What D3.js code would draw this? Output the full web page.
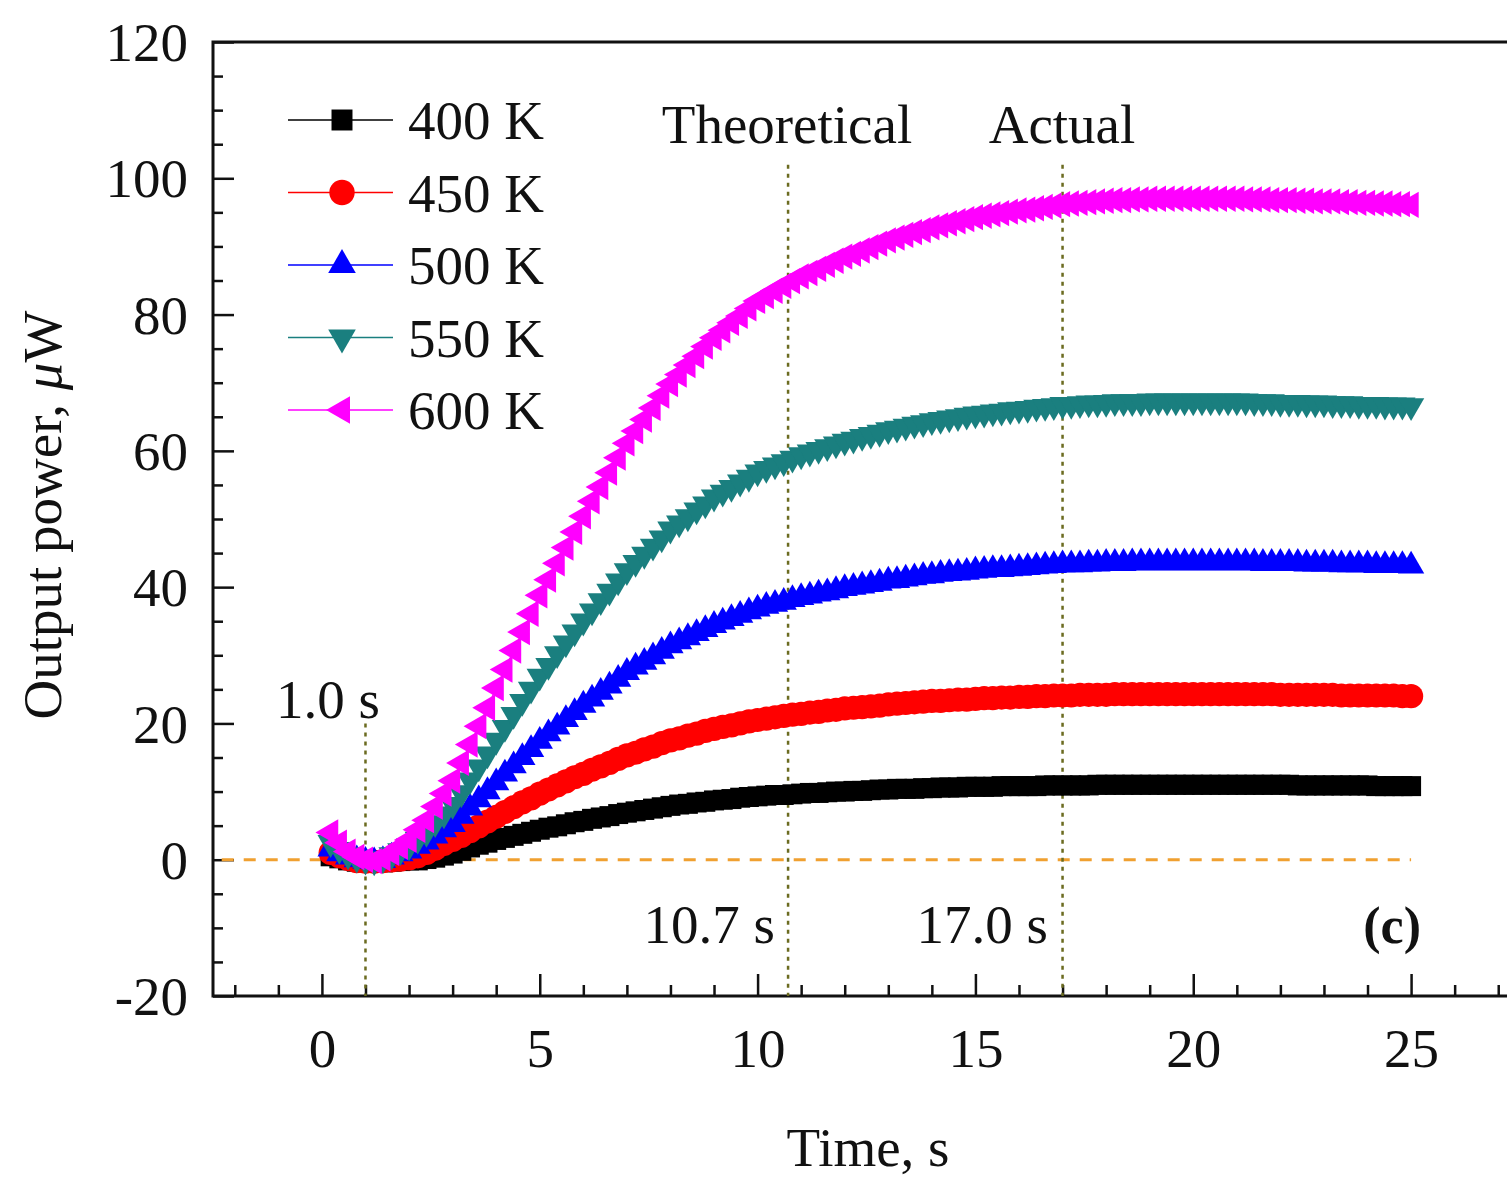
<!DOCTYPE html>
<html>
<head>
<meta charset="utf-8">
<script src="https://cdn.jsdelivr.net/npm/d3@7"></script>
<style>
  html, body { margin: 0; padding: 0; background: #fff; overflow: hidden; }
  text { font-family: "Liberation Serif", "Times New Roman", serif; fill: #111; }
</style>
</head>
<body>
<svg id="chart"></svg>
<script>
// sampled time, s
const time = [
  0.2, 0.4, 0.6, 0.8, 1.0, 1.2, 1.4, 1.6, 1.8, 2.0,
  2.2, 2.4, 2.6, 2.8, 3.0, 3.2, 3.4, 3.6, 3.8, 4.0,
  4.2, 4.4, 4.6, 4.8, 5.0, 5.2, 5.4, 5.6, 5.8, 6.0,
  6.2, 6.4, 6.6, 6.8, 7.0, 7.2, 7.4, 7.6, 7.8, 8.0,
  8.2, 8.4, 8.6, 8.8, 9.0, 9.2, 9.4, 9.6, 9.8, 10.0,
  10.2, 10.4, 10.6, 10.8, 11.0, 11.2, 11.4, 11.6, 11.8, 12.0,
  12.2, 12.4, 12.6, 12.8, 13.0, 13.2, 13.4, 13.6, 13.8, 14.0,
  14.2, 14.4, 14.6, 14.8, 15.0, 15.2, 15.4, 15.6, 15.8, 16.0,
  16.2, 16.4, 16.6, 16.8, 17.0, 17.2, 17.4, 17.6, 17.8, 18.0,
  18.2, 18.4, 18.6, 18.8, 19.0, 19.2, 19.4, 19.6, 19.8, 20.0,
  20.2, 20.4, 20.6, 20.8, 21.0, 21.2, 21.4, 21.6, 21.8, 22.0,
  22.2, 22.4, 22.6, 22.8, 23.0, 23.2, 23.4, 23.6, 23.8, 24.0,
  24.2, 24.4, 24.6, 24.8, 25.0
];

// output power, uW
const p400 = [
  0.5, 0.2, -0.1, -0.3, -0.4, -0.4, -0.4, -0.3, -0.2, -0.1,
  -0.1, 0.1, 0.3, 0.6, 0.9, 1.3, 1.8, 2.2, 2.5, 2.9,
  3.2, 3.5, 3.8, 4.1, 4.4, 4.7, 4.9, 5.2, 5.5, 5.7,
  6.0, 6.2, 6.4, 6.7, 6.9, 7.1, 7.3, 7.5, 7.7, 7.9,
  8.1, 8.2, 8.4, 8.5, 8.7, 8.8, 8.9, 9.1, 9.2, 9.3,
  9.4, 9.5, 9.5, 9.6, 9.7, 9.8, 9.8, 9.9, 10.0, 10.0,
  10.1, 10.1, 10.2, 10.3, 10.3, 10.4, 10.4, 10.4, 10.5, 10.5,
  10.6, 10.6, 10.6, 10.7, 10.7, 10.7, 10.7, 10.8, 10.8, 10.8,
  10.8, 10.8, 10.9, 10.9, 10.9, 10.9, 10.9, 10.9, 11.0, 11.0,
  11.0, 11.0, 11.0, 11.0, 11.0, 11.0, 11.0, 11.0, 11.0, 11.0,
  11.0, 11.0, 11.0, 11.0, 11.0, 11.0, 11.0, 11.0, 11.0, 11.0,
  11.0, 10.9, 10.9, 10.9, 10.9, 10.9, 10.9, 10.9, 10.9, 10.9,
  10.8, 10.8, 10.8, 10.8, 10.8
];
const p450 = [
  1.0, 0.5, 0.1, -0.2, -0.3, -0.3, -0.2, -0.1, 0.0, 0.2,
  0.5, 1.0, 1.6, 2.3, 2.9, 3.5, 4.2, 4.9, 5.6, 6.3,
  7.0, 7.7, 8.4, 9.0, 9.7, 10.3, 10.9, 11.5, 12.1, 12.6,
  13.2, 13.7, 14.2, 14.8, 15.3, 15.7, 16.2, 16.6, 17.1, 17.5,
  17.8, 18.2, 18.5, 18.9, 19.2, 19.5, 19.7, 20.0, 20.3, 20.5,
  20.7, 20.9, 21.1, 21.3, 21.4, 21.6, 21.7, 21.9, 22.0, 22.2,
  22.3, 22.4, 22.5, 22.6, 22.8, 22.9, 23.0, 23.1, 23.2, 23.3,
  23.3, 23.4, 23.5, 23.5, 23.6, 23.7, 23.7, 23.8, 23.8, 23.9,
  23.9, 24.0, 24.0, 24.1, 24.1, 24.1, 24.2, 24.2, 24.2, 24.2,
  24.3, 24.3, 24.3, 24.3, 24.3, 24.3, 24.3, 24.3, 24.3, 24.3,
  24.3, 24.3, 24.3, 24.3, 24.3, 24.3, 24.3, 24.3, 24.3, 24.2,
  24.2, 24.2, 24.2, 24.2, 24.2, 24.2, 24.1, 24.1, 24.1, 24.1,
  24.1, 24.1, 24.1, 24.0, 24.0
];
const p500 = [
  1.6, 0.9, 0.4, 0.0, -0.2, -0.3, -0.1, 0.4, 0.9, 1.3,
  2.0, 2.6, 3.5, 4.4, 5.2, 6.4, 7.6, 8.8, 10.0, 11.3,
  12.6, 13.8, 15.0, 16.2, 17.4, 18.5, 19.5, 20.6, 21.6, 22.7,
  23.6, 24.6, 25.5, 26.5, 27.5, 28.3, 29.0, 29.8, 30.6, 31.4,
  32.0, 32.6, 33.2, 33.8, 34.4, 34.9, 35.4, 35.9, 36.4, 36.8,
  37.2, 37.5, 37.8, 38.2, 38.5, 38.7, 39.0, 39.2, 39.5, 39.8,
  40.0, 40.2, 40.4, 40.6, 40.9, 41.0, 41.2, 41.4, 41.6, 41.7,
  41.9, 42.0, 42.1, 42.2, 42.4, 42.5, 42.6, 42.6, 42.7, 42.8,
  42.9, 43.0, 43.1, 43.2, 43.3, 43.3, 43.3, 43.4, 43.4, 43.5,
  43.5, 43.5, 43.6, 43.6, 43.6, 43.6, 43.6, 43.6, 43.6, 43.6,
  43.6, 43.6, 43.6, 43.6, 43.6, 43.6, 43.6, 43.5, 43.5, 43.5,
  43.5, 43.5, 43.4, 43.4, 43.4, 43.4, 43.3, 43.3, 43.3, 43.3,
  43.2, 43.2, 43.2, 43.2, 43.1
];
const p550 = [
  2.5, 1.5, 0.7, 0.2, -0.1, -0.2, 0.1, 0.7, 1.3, 2.0,
  3.0, 4.0, 5.4, 6.7, 8.1, 9.8, 11.7, 13.6, 15.5, 17.5,
  19.4, 21.3, 23.2, 25.0, 26.9, 28.5, 30.2, 31.8, 33.4, 35.0,
  36.5, 38.0, 39.4, 40.9, 42.4, 43.6, 44.8, 46.0, 47.2, 48.5,
  49.4, 50.3, 51.3, 52.2, 53.2, 53.9, 54.6, 55.4, 56.1, 56.9,
  57.4, 57.9, 58.4, 58.9, 59.4, 59.8, 60.2, 60.6, 61.0, 61.4,
  61.7, 62.1, 62.4, 62.7, 63.1, 63.3, 63.6, 63.9, 64.1, 64.4,
  64.6, 64.8, 65.0, 65.2, 65.4, 65.5, 65.7, 65.8, 66.0, 66.1,
  66.2, 66.4, 66.5, 66.6, 66.8, 66.8, 66.9, 67.0, 67.0, 67.1,
  67.2, 67.2, 67.2, 67.2, 67.3, 67.3, 67.3, 67.3, 67.3, 67.3,
  67.3, 67.3, 67.3, 67.3, 67.3, 67.3, 67.2, 67.2, 67.2, 67.1,
  67.1, 67.1, 67.0, 67.0, 67.0, 66.9, 66.9, 66.9, 66.8, 66.8,
  66.8, 66.7, 66.7, 66.7, 66.6
];
const p600 = [
  4.0, 2.5, 1.2, 0.4, 0.0, -0.2, 0.2, 1.0, 1.9, 2.9,
  4.4, 5.8, 7.8, 9.7, 11.6, 14.2, 16.9, 19.6, 22.3, 25.2,
  27.9, 30.7, 33.4, 36.1, 38.8, 41.1, 43.5, 45.8, 48.1, 50.4,
  52.6, 54.7, 56.8, 59.0, 61.1, 62.9, 64.6, 66.3, 68.1, 69.8,
  71.2, 72.6, 73.9, 75.3, 76.6, 77.7, 78.8, 79.8, 80.9, 82.0,
  82.7, 83.5, 84.2, 84.9, 85.6, 86.1, 86.7, 87.3, 87.9, 88.5,
  88.9, 89.4, 89.9, 90.4, 90.9, 91.3, 91.7, 92.1, 92.4, 92.8,
  93.1, 93.4, 93.7, 94.0, 94.3, 94.5, 94.7, 94.9, 95.1, 95.3,
  95.4, 95.6, 95.8, 96.0, 96.2, 96.3, 96.4, 96.5, 96.6, 96.7,
  96.8, 96.8, 96.9, 96.9, 97.0, 97.0, 97.0, 97.0, 97.0, 97.0,
  97.0, 97.0, 97.0, 97.0, 97.0, 96.9, 96.9, 96.9, 96.8, 96.8,
  96.8, 96.7, 96.7, 96.6, 96.6, 96.6, 96.5, 96.5, 96.4, 96.4,
  96.3, 96.3, 96.2, 96.2, 96.1
];

const labels = ['400 K', '450 K', '500 K', '550 K', '600 K'];
const colors = ['#000000', '#ff0000', '#0000ff', '#1a7f7f', '#ff00ff'];
const seriesValues = [p400, p450, p500, p550, p600];

const xMajor = [0, 5, 10, 15, 20, 25];
const yMajor = [-20, 0, 20, 40, 60, 80, 100, 120];
const markTimes = [1.0, 10.7, 17.0];

const width = 1507, height = 1178;
const margin = { left: 213, top: 42 };
const plotW = 1307, plotH = 954;
const fontSize = '55px';

const svg = d3.select('#chart').attr('width', width).attr('height', height);
const g = svg.append('g').attr('transform', 'translate(' + margin.left + ',' + margin.top + ')');

const x = d3.scaleLinear().domain([-2.5, 27.5]).range([0, plotW]);
const y = d3.scaleLinear().domain([-20, 120]).range([plotH, 0]);

// minor ticks
g.append('g')
  .attr('transform', 'translate(0,' + plotH + ')')
  .call(d3.axisBottom(x).tickValues(d3.range(-2, 28, 1).filter(v => v % 5 !== 0)).tickSize(-11).tickSizeOuter(0).tickFormat(''))
  .call(a => a.select('.domain').remove())
  .selectAll('line').attr('stroke', '#111').attr('stroke-width', 2.5);
g.append('g')
  .call(d3.axisLeft(y).tickValues(d3.range(-15, 120, 5).filter(v => v % 20 !== 0)).tickSize(-10).tickSizeOuter(0).tickFormat(''))
  .call(a => a.select('.domain').remove())
  .selectAll('line').attr('stroke', '#111').attr('stroke-width', 2.5);

// major ticks + labels
const xAxis = g.append('g')
  .attr('transform', 'translate(0,' + plotH + ')')
  .call(d3.axisBottom(x).tickValues(xMajor).tickSize(-22).tickSizeOuter(0).tickPadding(32).tickFormat(d => String(d)));
xAxis.select('.domain').remove();
xAxis.selectAll('line').attr('stroke', '#111').attr('stroke-width', 2.5);
xAxis.selectAll('text').style('font-size', fontSize).attr('fill', '#111');

const yAxis = g.append('g')
  .call(d3.axisLeft(y).tickValues(yMajor).tickSize(-21).tickSizeOuter(0).tickPadding(25).tickFormat(d => String(d)));
yAxis.select('.domain').remove();
yAxis.selectAll('line').attr('stroke', '#111').attr('stroke-width', 2.5);
yAxis.selectAll('text').style('font-size', fontSize).attr('fill', '#111').attr('dy', '0.34em');

// frame (right side falls outside the picture)
g.append('path')
  .attr('d', 'M' + (plotW + 20) + ',0H0V' + plotH + 'H' + (plotW + 20))
  .attr('fill', 'none').attr('stroke', '#111').attr('stroke-width', 3);

// zero line
g.append('line')
  .attr('x1', x(-2.3)).attr('x2', x(25)).attr('y1', y(0)).attr('y2', y(0))
  .attr('stroke', '#f0a030').attr('stroke-width', 3).attr('stroke-dasharray', '12,10');

// time markers
const markTop = [y(20), y(102), y(102)];
g.selectAll('.mark')
  .data(markTimes)
  .enter().append('line')
  .attr('x1', d => x(d)).attr('x2', d => x(d))
  .attr('y1', (d, i) => markTop[i]).attr('y2', plotH)
  .attr('stroke', '#6b6b20').attr('stroke-width', 2.5).attr('stroke-dasharray', '4,5');

// series
const symbols = [
  { type: d3.symbolSquare, size: 400, rot: 0 },
  { type: d3.symbolCircle, size: 460, rot: 0 },
  { type: d3.symbolTriangle, size: 300, rot: 0 },
  { type: d3.symbolTriangle, size: 300, rot: 180 },
  { type: d3.symbolTriangle, size: 300, rot: -90 }
];
const line = d3.line().x(d => x(d[0])).y(d => y(d[1]));

seriesValues.forEach((vals, i) => {
  const pts = time.map((t, j) => [t, vals[j]]);
  g.append('path').datum(pts)
    .attr('d', line).attr('fill', 'none').attr('stroke', colors[i]).attr('stroke-width', 1.5);
  g.append('g').selectAll('path')
    .data(pts)
    .enter().append('path')
    .attr('d', d3.symbol().type(symbols[i].type).size(symbols[i].size))
    .attr('transform', d => 'translate(' + x(d[0]) + ',' + y(d[1]) + ') rotate(' + symbols[i].rot + ')')
    .attr('fill', colors[i]);
});

// legend
const legend = svg.append('g').attr('transform', 'translate(288,120)');
labels.forEach((lab, i) => {
  const row = legend.append('g').attr('transform', 'translate(0,' + (i * 72.5) + ')');
  row.append('line').attr('x1', 0).attr('x2', 105).attr('y1', 0).attr('y2', 0)
    .attr('stroke', colors[i]).attr('stroke-width', 1.5);
  row.append('path')
    .attr('d', d3.symbol().type(symbols[i].type).size(symbols[i].size * 1.1))
    .attr('transform', 'translate(54,0) rotate(' + symbols[i].rot + ')')
    .attr('fill', colors[i]);
  row.append('text').attr('x', 120).attr('y', 19).style('font-size', fontSize).text(lab);
});

// annotations
const notes = [
  { text: 'Theoretical', x: 787, y: 143, anchor: 'middle' },
  { text: 'Actual', x: 1062, y: 143, anchor: 'middle' },
  { text: '1.0 s', x: 328, y: 718, anchor: 'middle' },
  { text: '10.7 s', x: 775, y: 943, anchor: 'end' },
  { text: '17.0 s', x: 1048, y: 943, anchor: 'end' }
];
svg.selectAll('.note')
  .data(notes)
  .enter().append('text')
  .attr('x', d => d.x).attr('y', d => d.y)
  .attr('text-anchor', d => d.anchor)
  .style('font-size', fontSize)
  .text(d => d.text);
svg.append('text').attr('x', 1421).attr('y', 943).attr('text-anchor', 'end')
  .style('font-size', '52px').style('font-weight', 'bold').text('(c)');

// axis titles
svg.append('text').attr('x', 868).attr('y', 1166).attr('text-anchor', 'middle')
  .style('font-size', fontSize).text('Time, s');
const yTitle = svg.append('text')
  .attr('transform', 'translate(61,515) rotate(-90)')
  .attr('text-anchor', 'middle')
  .style('font-size', fontSize);
yTitle.append('tspan').text('Output power, ');
yTitle.append('tspan').style('font-style', 'italic').text('\u03bc');
yTitle.append('tspan').text('W');
</script>
</body>
</html>
